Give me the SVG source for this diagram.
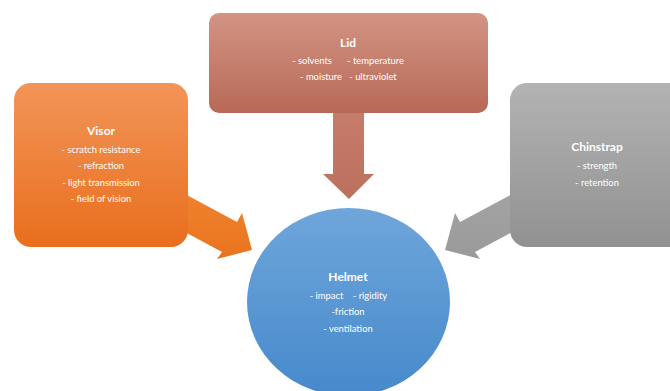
<svg xmlns="http://www.w3.org/2000/svg" width="670" height="391" viewBox="0 0 670 391">
<defs>
<linearGradient id="gLid" x1="0" y1="0" x2="0" y2="1"><stop offset="0" stop-color="#D29484"/><stop offset="1" stop-color="#B86956"/></linearGradient>
<linearGradient id="gLidA" x1="0" y1="0" x2="0" y2="1"><stop offset="0" stop-color="#C77D6C"/><stop offset="1" stop-color="#BC6F5D"/></linearGradient>
<linearGradient id="gVis" x1="0" y1="0" x2="0" y2="1"><stop offset="0" stop-color="#F29558"/><stop offset="1" stop-color="#E96E1D"/></linearGradient>
<linearGradient id="gVisA" x1="0" y1="0" x2="0" y2="1"><stop offset="0" stop-color="#F0842F"/><stop offset="1" stop-color="#EA741F"/></linearGradient>
<linearGradient id="gChin" x1="0" y1="0" x2="0" y2="1"><stop offset="0" stop-color="#B3B3B3"/><stop offset="1" stop-color="#919191"/></linearGradient>
<linearGradient id="gChinA" x1="0" y1="0" x2="0" y2="1"><stop offset="0" stop-color="#A4A4A4"/><stop offset="1" stop-color="#9A9A9A"/></linearGradient>
<linearGradient id="gHel" x1="0" y1="0" x2="0" y2="1"><stop offset="0" stop-color="#6FA6DB"/><stop offset="1" stop-color="#4689CB"/></linearGradient>
</defs>
<style>
.t{font-family:Lato,"Open Sans","Liberation Sans",sans-serif;fill:#ffffff;text-anchor:middle}
.h{font-size:12px;font-weight:bold}
.b{font-size:9.4px}
</style>
<g id="connectors">
<polygon points="333,110 364,110 364,174 374,174 349,199 323,174 333,174" fill="url(#gLidA)"/>
<polygon points="170,186 237,222 242,213 252,250 217,259 222,252 170,224" fill="url(#gVisA)"/>
<polygon points="527,186 460,222 455,213 445,250 480,259 475,252 527,224" fill="url(#gChinA)"/>
</g>
<g id="lid">
<rect x="209" y="13" width="279" height="100" rx="10" fill="url(#gLid)"/>
<text class="t h" x="348" y="47">Lid</text>
<text class="t b" x="312" y="64">- solvents</text>
<text class="t b" x="375.5" y="64">- temperature</text>
<text class="t b" x="321" y="80">- moisture</text>
<text class="t b" x="373" y="80">- ultraviolet</text>
</g>
<g id="visor">
<rect x="14" y="83" width="174" height="164" rx="17" fill="url(#gVis)"/>
<text class="t h" x="101" y="135">Visor</text>
<text class="t b" x="101" y="153">- scratch resistance</text>
<text class="t b" x="101" y="169">- refraction</text>
<text class="t b" x="101" y="186">- light transmission</text>
<text class="t b" x="101" y="202">- field of vision</text>
</g>
<g id="chinstrap">
<rect x="510" y="83" width="185" height="164" rx="17" fill="url(#gChin)"/>
<text class="t h" x="597" y="151">Chinstrap</text>
<text class="t b" x="597" y="169">- strength</text>
<text class="t b" x="597" y="186">- retention</text>
</g>
<g id="helmet">
<ellipse cx="348.5" cy="302" rx="101.5" ry="94" fill="url(#gHel)"/>
<text class="t h" x="348" y="281">Helmet</text>
<text class="t b" x="326.5" y="299">- impact</text>
<text class="t b" x="370" y="299">- rigidity</text>
<text class="t b" x="348" y="315">-friction</text>
<text class="t b" x="348" y="332">- ventilation</text>
</g>
</svg>
